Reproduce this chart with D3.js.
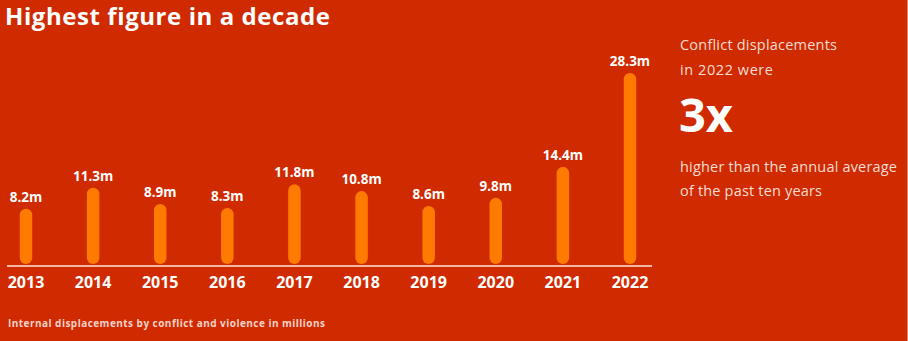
<!DOCTYPE html>
<html><head><meta charset="utf-8">
<script src="https://cdn.jsdelivr.net/npm/d3@7"></script>
<style>
html,body{margin:0;padding:0;background:#CF2A00;}
svg{display:block;}
text{font-family:"Open Sans",Lato,sans-serif;fill:#fff;}
</style></head>
<body>
<svg id="chart" width="908" height="341"></svg>
<script>
const years = ["2013","2014","2015","2016","2017","2018","2019","2020","2021","2022"];
const values = [8.2,11.3,8.9,8.3,11.8,10.8,8.6,9.8,14.4,28.3];
const valueLabels = ["8.2m","11.3m","8.9m","8.3m","11.8m","10.8m","8.6m","9.8m","14.4m","28.3m"];
const title = "Highest figure in a decade";
const note = "Internal displacements by conflict and violence in millions";
const calloutTop = ["Conflict displacements","in 2022 were"];
const calloutBig = "3x";
const calloutBottom = ["higher than the annual average","of the past ten years"];

const svg = d3.select("#chart");
svg.append("rect").attr("width",908).attr("height",341).attr("fill","#CF2A00");
svg.append("rect").attr("x",907).attr("y",0).attr("width",1).attr("height",341).attr("fill","#E98A70");

// stretch text to a measured width via letter-spacing
function fit(sel, target){
  sel.each(function(){
    const w = this.getComputedTextLength();
    const n = this.textContent.length;
    const ls = (target - w)/Math.max(1,n-1);
    d3.select(this).style("letter-spacing", ls+"px");
  });
  return sel;
}

const x = d3.scalePoint().domain(years).range([26,630]);
const y = d3.scaleLinear().domain([0,30]).range([264,61.5]);

fit(svg.append("text").attr("x",5).attr("y",25).attr("font-size",24).attr("font-weight",700)
  .text(title), 325);

const barW = 12.5;
svg.selectAll("rect.bar").data(values).join("rect").attr("class","bar")
  .attr("x",(d,i)=>x(years[i])-barW/2).attr("width",barW)
  .attr("y",d=>y(d)).attr("height",d=>y(0)-y(d)).attr("rx",barW/2)
  .attr("fill","#FF7A00");

svg.append("rect").attr("x",7).attr("y",265).attr("width",645).attr("height",2).attr("fill","#F2B7A3");

svg.selectAll("text.val").data(values).join("text").attr("class","val")
  .attr("x",(d,i)=>x(years[i])).attr("y",d=>y(d)-7)
  .attr("text-anchor","middle").attr("font-size",13.5).attr("font-weight",700)
  .text((d,i)=>valueLabels[i]);

svg.selectAll("text.yr").data(years).join("text").attr("class","yr")
  .attr("x",d=>x(d)).attr("y",288).attr("text-anchor","middle")
  .attr("font-size",16).attr("font-weight",700).text(d=>d);

fit(svg.append("text").attr("x",8).attr("y",326.5).attr("font-size",10).attr("font-weight",700)
  .style("fill","#F6D3C8").text(note), 317);

const cx = 680;
const topW = [157, 93], botW = [217, 142];
calloutTop.forEach((t,i)=>fit(svg.append("text").attr("x",cx).attr("y",50+i*25).attr("font-size",14.5).style("fill","#F8DDD4").text(t), topW[i]));
svg.append("text").attr("x",cx-1).attr("y",132).attr("font-size",47).attr("font-weight",700).text(calloutBig);
calloutBottom.forEach((t,i)=>fit(svg.append("text").attr("x",cx).attr("y",172+i*24).attr("font-size",14.5).style("fill","#F8DDD4").text(t), botW[i]));
</script>
</body></html>
